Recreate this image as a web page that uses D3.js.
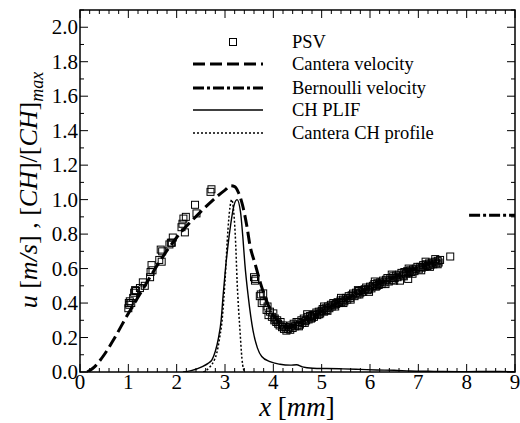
<!DOCTYPE html>
<html>
<head>
<meta charset="utf-8">
<script src="https://cdn.jsdelivr.net/npm/d3@7"></script>
<style>
  body { margin: 0; background: #fff; }
  svg text { font-family: 'Liberation Serif', 'Times New Roman', Times, serif; fill: #000; }
</style>
</head>
<body>
<div id="chart"></div>
<script>
// PSV measured points (x in mm, u in m/s)
const psvX = [1.00,1.01,1.02,1.03,1.06,1.10,1.12,1.14,1.16,1.24,1.30,1.34,1.45,1.46,1.48,1.50,1.64,1.67,1.69,1.70,1.85,1.88,1.90,1.92,2.10,2.12,2.14,2.17,2.19,2.38,2.41,2.70,2.72,
  3.60,3.62,3.63,3.72,3.74,3.76,3.79,3.80,3.86,3.88,3.90,3.93,3.97,4.00,4.02,4.03,4.06,4.08,4.10,4.13,4.15,4.18,4.20,4.22,4.25,4.27,4.30,4.32,4.35,4.37,4.40,4.42,4.45,4.48,4.50,
  4.52,4.55,4.58,4.60,4.63,4.66,4.68,4.71,4.73,4.76,4.78,4.81,4.84,4.86,4.89,4.91,4.94,4.97,5.00,5.02,5.05,5.08,5.10,5.13,5.16,5.19,5.21,5.24,5.27,5.30,5.33,5.36,5.39,5.41,5.44,5.47,5.50,5.53,5.56,5.59,5.62,5.65,5.68,5.71,5.74,5.77,5.80,5.83,5.86,5.89,5.92,5.95,5.98,
  6.00,6.03,6.06,6.09,6.12,6.15,6.18,6.21,6.24,6.27,6.30,6.33,6.36,6.39,6.42,6.45,6.48,6.51,6.54,6.57,6.60,6.62,6.65,6.68,6.71,6.74,6.77,6.79,6.80,6.83,6.86,6.89,6.92,6.95,6.98,
  7.01,7.04,7.07,7.10,7.13,7.16,7.19,7.22,7.25,7.28,7.31,7.34,7.37,7.40,7.42,7.45,7.66,
  4.53,4.65,4.80,4.95,5.12,5.28,5.45,5.60,5.78,5.96,6.14,6.32,6.50,6.70,6.88,7.06,7.24,7.40,
  4.70,5.05,5.40,5.75,6.10,6.45,6.80,7.15,7.35];
const psvY = [0.37,0.40,0.39,0.41,0.40,0.43,0.46,0.475,0.47,0.487,0.52,0.50,0.55,0.58,0.62,0.59,0.65,0.71,0.64,0.70,0.74,0.75,0.75,0.78,0.84,0.86,0.89,0.81,0.90,0.97,0.92,1.045,1.06,
  0.55,0.53,0.54,0.44,0.45,0.40,0.456,0.41,0.36,0.38,0.33,0.35,0.32,0.34,0.30,0.31,0.29,0.30,0.28,0.27,0.29,0.26,0.27,0.25,0.26,0.24,0.25,0.26,0.245,0.27,0.255,0.28,0.265,0.29,0.27,
  0.29,0.275,0.30,0.285,0.31,0.295,0.30,0.32,0.305,0.325,0.31,0.33,0.32,0.335,0.345,0.33,0.35,0.34,0.355,0.365,0.35,0.37,0.36,0.38,0.37,0.39,0.38,0.40,0.39,0.395,0.405,0.40,0.415,0.405,0.42,0.41,0.43,0.42,0.44,0.43,0.445,0.455,0.44,0.46,0.45,0.47,0.46,0.475,0.465,0.48,0.49,0.475,0.465,
  0.495,0.485,0.50,0.51,0.495,0.515,0.505,0.52,0.51,0.53,0.52,0.535,0.545,0.525,0.545,0.535,0.555,0.545,0.56,0.55,0.565,0.53,0.575,0.56,0.58,0.57,0.585,0.54,0.575,0.59,0.58,0.595,0.585,0.60,0.61,
  0.595,0.61,0.605,0.62,0.61,0.625,0.615,0.63,0.62,0.635,0.625,0.64,0.63,0.645,0.635,0.65,0.67,
  0.265,0.285,0.315,0.335,0.355,0.38,0.40,0.42,0.45,0.48,0.50,0.51,0.53,0.555,0.57,0.59,0.61,0.625,
  0.335,0.38,0.43,0.475,0.525,0.565,0.60,0.64,0.655];

// Cantera velocity
const canVelX = [0.15,0.3,0.5,0.7,1.0,1.3,1.6,2.0,2.5,2.8,3.0,3.12,3.2,3.28,3.37,3.45,3.52,3.62,3.74,3.85,4.0,4.15,4.3,4.5,4.75,5.0,5.25,5.5,5.75,6.0,6.25,6.5,6.75,7.0,7.25,7.45];
const canVelY = [0.0,0.03,0.10,0.19,0.34,0.48,0.62,0.78,0.93,1.01,1.055,1.08,1.075,1.04,0.96,0.85,0.73,0.63,0.51,0.42,0.33,0.28,0.255,0.28,0.315,0.35,0.39,0.42,0.46,0.49,0.52,0.55,0.58,0.605,0.63,0.645];

// Bernoulli velocity
const bernX = [8.05, 9.0];
const bernY = [0.91, 0.91];

// CH PLIF
const plifX = [2.13,2.3,2.52,2.65,2.73,2.8,2.86,2.92,2.96,3.01,3.06,3.12,3.18,3.25,3.32,3.37,3.41,3.48,3.58,3.67,3.76,3.93,4.14,4.35,4.48,4.6,4.82,5.1,5.44,5.8,6.14,6.5,6.83,7.2,7.5,8.0,8.5,9.0];
const plifY = [0.0,0.008,0.03,0.05,0.07,0.12,0.19,0.30,0.44,0.60,0.73,0.86,0.96,1.0,0.93,0.78,0.63,0.44,0.24,0.14,0.09,0.06,0.045,0.04,0.042,0.03,0.022,0.02,0.018,0.015,0.012,0.01,0.006,0.004,0.003,0.002,0.003,0.002];

// Cantera CH profile
const canChX = [2.55,2.69,2.78,2.83,2.89,2.94,3.0,3.06,3.1,3.14,3.18,3.22,3.25,3.31,3.35,3.38,3.42];
const canChY = [0.0,0.03,0.07,0.11,0.20,0.30,0.53,0.82,0.95,1.0,0.93,0.75,0.53,0.24,0.08,0.02,0.0];

const legendLabels = ["PSV", "Cantera velocity", "Bernoulli velocity", "CH PLIF", "Cantera CH profile"];
const xTicks = [0,1,2,3,4,5,6,7,8,9];
const yTicks = [0.0,0.2,0.4,0.6,0.8,1.0,1.2,1.4,1.6,1.8,2.0];

const FONT = "'Liberation Serif', 'Times New Roman', Times, serif";
const width = 520, height = 423;
const margin = {left: 80, right: 5, top: 10, bottom: 51};

const svg = d3.select("#chart").append("svg")
    .attr("width", width)
    .attr("height", height)
    .style("font-family", FONT);

const x = d3.scaleLinear().domain([0, 9]).range([margin.left, width - margin.right]);
const y = d3.scaleLinear().domain([0, 2.1]).range([height - margin.bottom, margin.top]);

const toPts = (xs, ys) => xs.map((v, i) => [v, ys[i]]);

svg.append("clipPath").attr("id", "plot-clip")
  .append("rect")
    .attr("x", x(0)).attr("y", y(2.1))
    .attr("width", x(9) - x(0)).attr("height", y(0) - y(2.1));

const plot = svg.append("g").attr("clip-path", "url(#plot-clip)");

const line = d3.line().x(d => x(d[0])).y(d => y(d[1])).curve(d3.curveMonotoneX);

// 曲线样式
const styles = {
  canVel: {w: 3, dash: "12,5"},
  bern: {w: 3, dash: "11,3,3,3"},
  plif: {w: 1.4, dash: null},
  canCh: {w: 1.5, dash: "2,2"}
};

const series = [
  {pts: toPts(canChX, canChY), s: styles.canCh},
  {pts: toPts(plifX, plifY), s: styles.plif},
  {pts: toPts(canVelX, canVelY), s: styles.canVel},
  {pts: toPts(bernX, bernY), s: styles.bern}
];

series.forEach(d => {
  plot.append("path")
      .datum(d.pts)
      .attr("fill", "none")
      .attr("stroke", "#000")
      .attr("stroke-width", d.s.w)
      .attr("stroke-dasharray", d.s.dash)
      .attr("d", line);
});

// PSV方块
const sq = 7;
plot.selectAll("rect.psv")
  .data(toPts(psvX, psvY))
  .enter().append("rect")
    .attr("class", "psv")
    .attr("x", d => x(d[0]) - sq / 2)
    .attr("y", d => y(d[1]) - sq / 2)
    .attr("width", sq).attr("height", sq)
    .attr("fill", "none")
    .attr("stroke", "#000")
    .attr("stroke-width", 1);

// 坐标轴与刻度
const axes = svg.append("g").attr("stroke", "#000");
axes.append("rect")
    .attr("x", x(0)).attr("y", y(2.1))
    .attr("width", x(9) - x(0)).attr("height", y(0) - y(2.1))
    .attr("fill", "none").attr("stroke-width", 1.5);

const xMinor = d3.range(0, 46).map(i => i * 0.2).filter(v => v <= 9.001);
xMinor.forEach(v => {
  const major = Math.abs(v - Math.round(v)) < 1e-6;
  const len = major ? 8 : 4;
  axes.append("line").attr("x1", x(v)).attr("x2", x(v)).attr("y1", y(0)).attr("y2", y(0) - len).attr("stroke-width", 1);
  axes.append("line").attr("x1", x(v)).attr("x2", x(v)).attr("y1", y(2.1)).attr("y2", y(2.1) + len).attr("stroke-width", 1);
});
const yMinor = d3.range(0, 22).map(i => i * 0.1);
yMinor.forEach((v, i) => {
  const len = i % 2 === 0 ? 8 : 4;
  axes.append("line").attr("x1", x(0)).attr("x2", x(0) + len).attr("y1", y(v)).attr("y2", y(v)).attr("stroke-width", 1);
  axes.append("line").attr("x1", x(9)).attr("x2", x(9) - len).attr("y1", y(v)).attr("y2", y(v)).attr("stroke-width", 1);
});

svg.selectAll("text.xt")
  .data(xTicks)
  .enter().append("text")
    .attr("class", "xt")
    .attr("x", d => x(d))
    .attr("y", y(0) + 17)
    .attr("text-anchor", "middle")
    .style("font-family", FONT)
    .style("font-size", "21px")
    .text(d => d);

svg.selectAll("text.yt")
  .data(yTicks)
  .enter().append("text")
    .attr("class", "yt")
    .attr("x", x(0) - 2)
    .attr("y", d => y(d) + 7)
    .attr("text-anchor", "end")
    .style("font-family", FONT)
    .style("font-size", "21px")
    .text(d => d.toFixed(1));

// 轴标题
const xt = svg.append("text")
    .attr("x", 297).attr("y", 416)
    .attr("text-anchor", "middle")
    .style("font-family", FONT)
    .style("font-size", "27px");
xt.append("tspan").style("font-style", "italic").text("x");
xt.append("tspan").text(" [");
xt.append("tspan").style("font-style", "italic").text("mm");
xt.append("tspan").text("]");

const yt = svg.append("text")
    .attr("transform", "translate(37,190) rotate(-90)")
    .attr("text-anchor", "middle")
    .style("font-family", FONT)
    .style("font-size", "26px");
yt.append("tspan").style("font-style", "italic").text("u");
yt.append("tspan").text(" [");
yt.append("tspan").style("font-style", "italic").text("m/s");
yt.append("tspan").text("] , [");
yt.append("tspan").style("font-style", "italic").text("CH");
yt.append("tspan").text("]/[");
yt.append("tspan").style("font-style", "italic").text("CH");
yt.append("tspan").text("]");
yt.append("tspan").style("font-style", "italic").style("font-size", "18px").attr("dy", 6).text("max");

// 图例
const legY = [42, 64, 88, 110, 133];
const legStyles = [null, styles.canVel, styles.bern, styles.plif, styles.canCh];
const leg = svg.append("g");
legendLabels.forEach((lab, i) => {
  if (i === 0) {
    leg.append("rect")
        .attr("x", 233 - sq / 2).attr("y", legY[i] - sq / 2)
        .attr("width", sq).attr("height", sq)
        .attr("fill", "none").attr("stroke", "#000");
  } else {
    leg.append("line")
        .attr("x1", 193).attr("x2", 263)
        .attr("y1", legY[i]).attr("y2", legY[i])
        .attr("stroke", "#000")
        .attr("stroke-width", legStyles[i].w)
        .attr("stroke-dasharray", legStyles[i].dash);
  }
  leg.append("text")
      .attr("x", 292).attr("y", legY[i] + 6)
      .style("font-family", FONT)
      .style("font-size", "18.5px")
      .text(lab);
});
</script>
</body>
</html>
